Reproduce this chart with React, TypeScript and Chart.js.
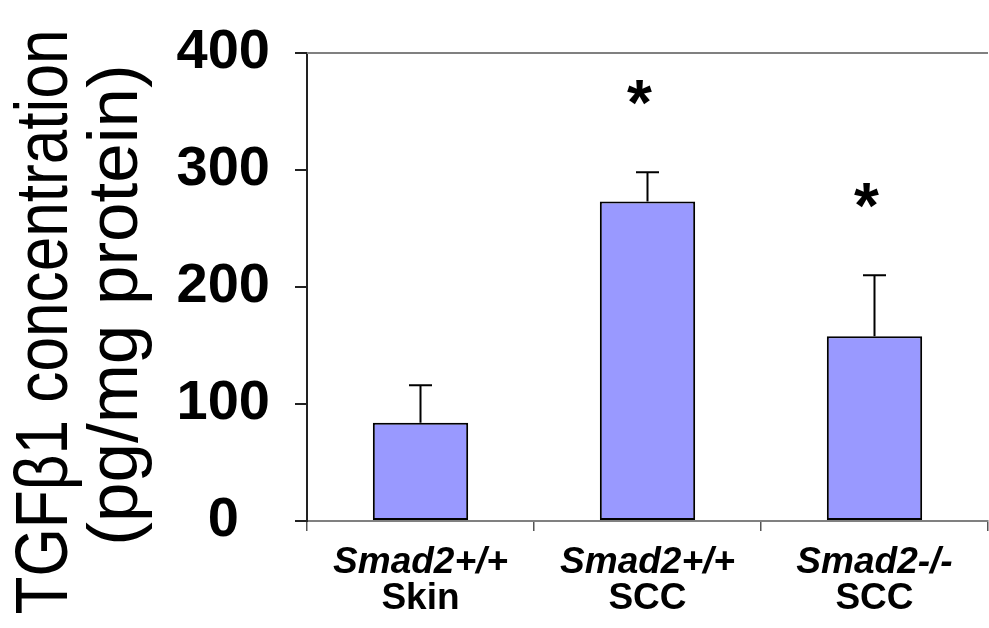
import { useEffect, useRef } from 'react';
import { Chart, registerables } from 'chart.js';

Chart.register(...registerables);

const genotypes = ['Smad2+/+', 'Smad2+/+', 'Smad2-/-'];
const tissues = ['Skin', 'SCC', 'SCC'];
const means = [84, 273, 158];
const errors = [32, 25, 52];
const significance = ['', '*', '*'];
const yTickValues = [0, 100, 200, 300, 400];
const yTitle = ['TGF\u03B21 concentration', '(pg/mg protein)'];

const FONT = '"Liberation Sans", Arial, Helvetica, sans-serif';

// styling of the rotated title lines: font size, horizontal squeeze, baseline x, vertical offset from plot centre
const titleStyles = [
  { size: 74, squeeze: 0.84, baselineX: 67, dy: 35 },
  { size: 71, squeeze: 1, baselineX: 137, dy: 18 },
];

const annotations = {
  id: 'annotations',
  afterDraw(chart: any) {
    const { ctx, chartArea } = chart;
    const cy = (chartArea.top + chartArea.bottom) / 2;
    ctx.save();
    ctx.fillStyle = '#000';
    yTitle.forEach((line, i) => {
      const st = titleStyles[i];
      ctx.save();
      ctx.translate(st.baselineX, cy + st.dy);
      ctx.rotate(-Math.PI / 2);
      ctx.scale(st.squeeze, 1);
      ctx.font = `${st.size}px ${FONT}`;
      ctx.textAlign = 'center';
      ctx.textBaseline = 'alphabetic';
      ctx.fillText(line, 0, 0);
      ctx.restore();
    });
    ctx.restore();
  },
  afterDatasetsDraw(chart: any) {
    const { ctx, chartArea, scales } = chart;
    const y = scales.y;
    const meta = chart.getDatasetMeta(0);
    ctx.save();
    ctx.strokeStyle = '#808080';
    ctx.lineWidth = 2;
    ctx.beginPath();
    ctx.moveTo(chartArea.left, chartArea.top);
    ctx.lineTo(chartArea.right, chartArea.top);
    ctx.stroke();
    meta.data.forEach((bar: any, i: number) => {
      const base = y.getPixelForValue(means[i]);
      const top = y.getPixelForValue(means[i] + errors[i]);
      ctx.strokeStyle = '#000';
      ctx.lineWidth = 2;
      ctx.beginPath();
      ctx.moveTo(bar.x, base);
      ctx.lineTo(bar.x, top);
      ctx.moveTo(bar.x - 11.5, top);
      ctx.lineTo(bar.x + 11.5, top);
      ctx.stroke();
      if (significance[i]) {
        ctx.fillStyle = '#000';
        ctx.font = `bold 64px ${FONT}`;
        ctx.textAlign = 'center';
        ctx.textBaseline = 'alphabetic';
        ctx.fillText(significance[i], bar.x - 8, top - 47);
      }
    });
    ctx.restore();
  },
};

export default function App() {
  const canvasRef = useRef<HTMLCanvasElement | null>(null);

  useEffect(() => {
    document.body.style.margin = '0';
    const canvas = canvasRef.current;
    if (!canvas) return;
    const chart = new Chart(canvas, {
      type: 'bar',
      data: {
        labels: genotypes,
        datasets: [
          {
            data: means,
            backgroundColor: '#9999FF',
            borderColor: '#000000',
            borderWidth: 2,
            borderSkipped: false,
            barPercentage: 0.42,
            categoryPercentage: 1,
          },
        ],
      },
      options: {
        animation: false,
        responsive: false,
        maintainAspectRatio: false,
        layout: { padding: { top: 43, right: 1, bottom: 0, left: 0 } },
        plugins: {
          legend: { display: false },
          tooltip: { enabled: false },
        },
        scales: {
          x: {
            type: 'category',
            position: 'bottom',
            offset: true,
            grid: {
              offset: true,
              drawOnChartArea: false,
              drawTicks: true,
              tickLength: 10,
              color: '#555555',
              lineWidth: 1.5,
            },
            border: { color: '#808080', width: 2 },
            ticks: {
              color: '#000',
              padding: 10,
              maxRotation: 0,
              autoSkip: false,
              font: { family: FONT, size: 37, weight: 'bold', style: 'italic', lineHeight: 1.2 },
            },
            afterFit(scale: any) {
              scale.height = 56;
            },
          },
          x2: {
            type: 'category',
            labels: tissues,
            position: 'bottom',
            offset: true,
            grid: { display: false, drawTicks: false },
            border: { display: false },
            ticks: {
              color: '#000',
              padding: 0,
              maxRotation: 0,
              autoSkip: false,
              font: { family: FONT, size: 37, weight: 'bold', lineHeight: 1.2 },
            },
            afterFit(scale: any) {
              scale.height = 51;
            },
          },
          y: {
            type: 'linear',
            min: yTickValues[0],
            max: yTickValues[yTickValues.length - 1],
            afterBuildTicks(scale: any) {
              scale.ticks = yTickValues.map((v) => ({ value: v }));
            },
            grid: {
              drawOnChartArea: false,
              drawTicks: true,
              tickLength: 12,
              color: '#222222',
              lineWidth: 2,
            },
            border: { color: '#222222', width: 2 },
            ticks: {
              color: '#000',
              padding: 25,
              crossAlign: 'center',
              font: { family: FONT, size: 56, weight: 'bold', lineHeight: 1.0 },
            },
            title: { display: false },
            afterFit(scale: any) {
              scale.width = 307;
            },
          },
        },
      },
      plugins: [annotations],
    });
    return () => chart.destroy();
  }, []);

  return (
    <div style={{ width: 989, height: 628 }}>
      <canvas ref={canvasRef} width={989} height={628} style={{ width: 989, height: 628 }} />
    </div>
  );
}
